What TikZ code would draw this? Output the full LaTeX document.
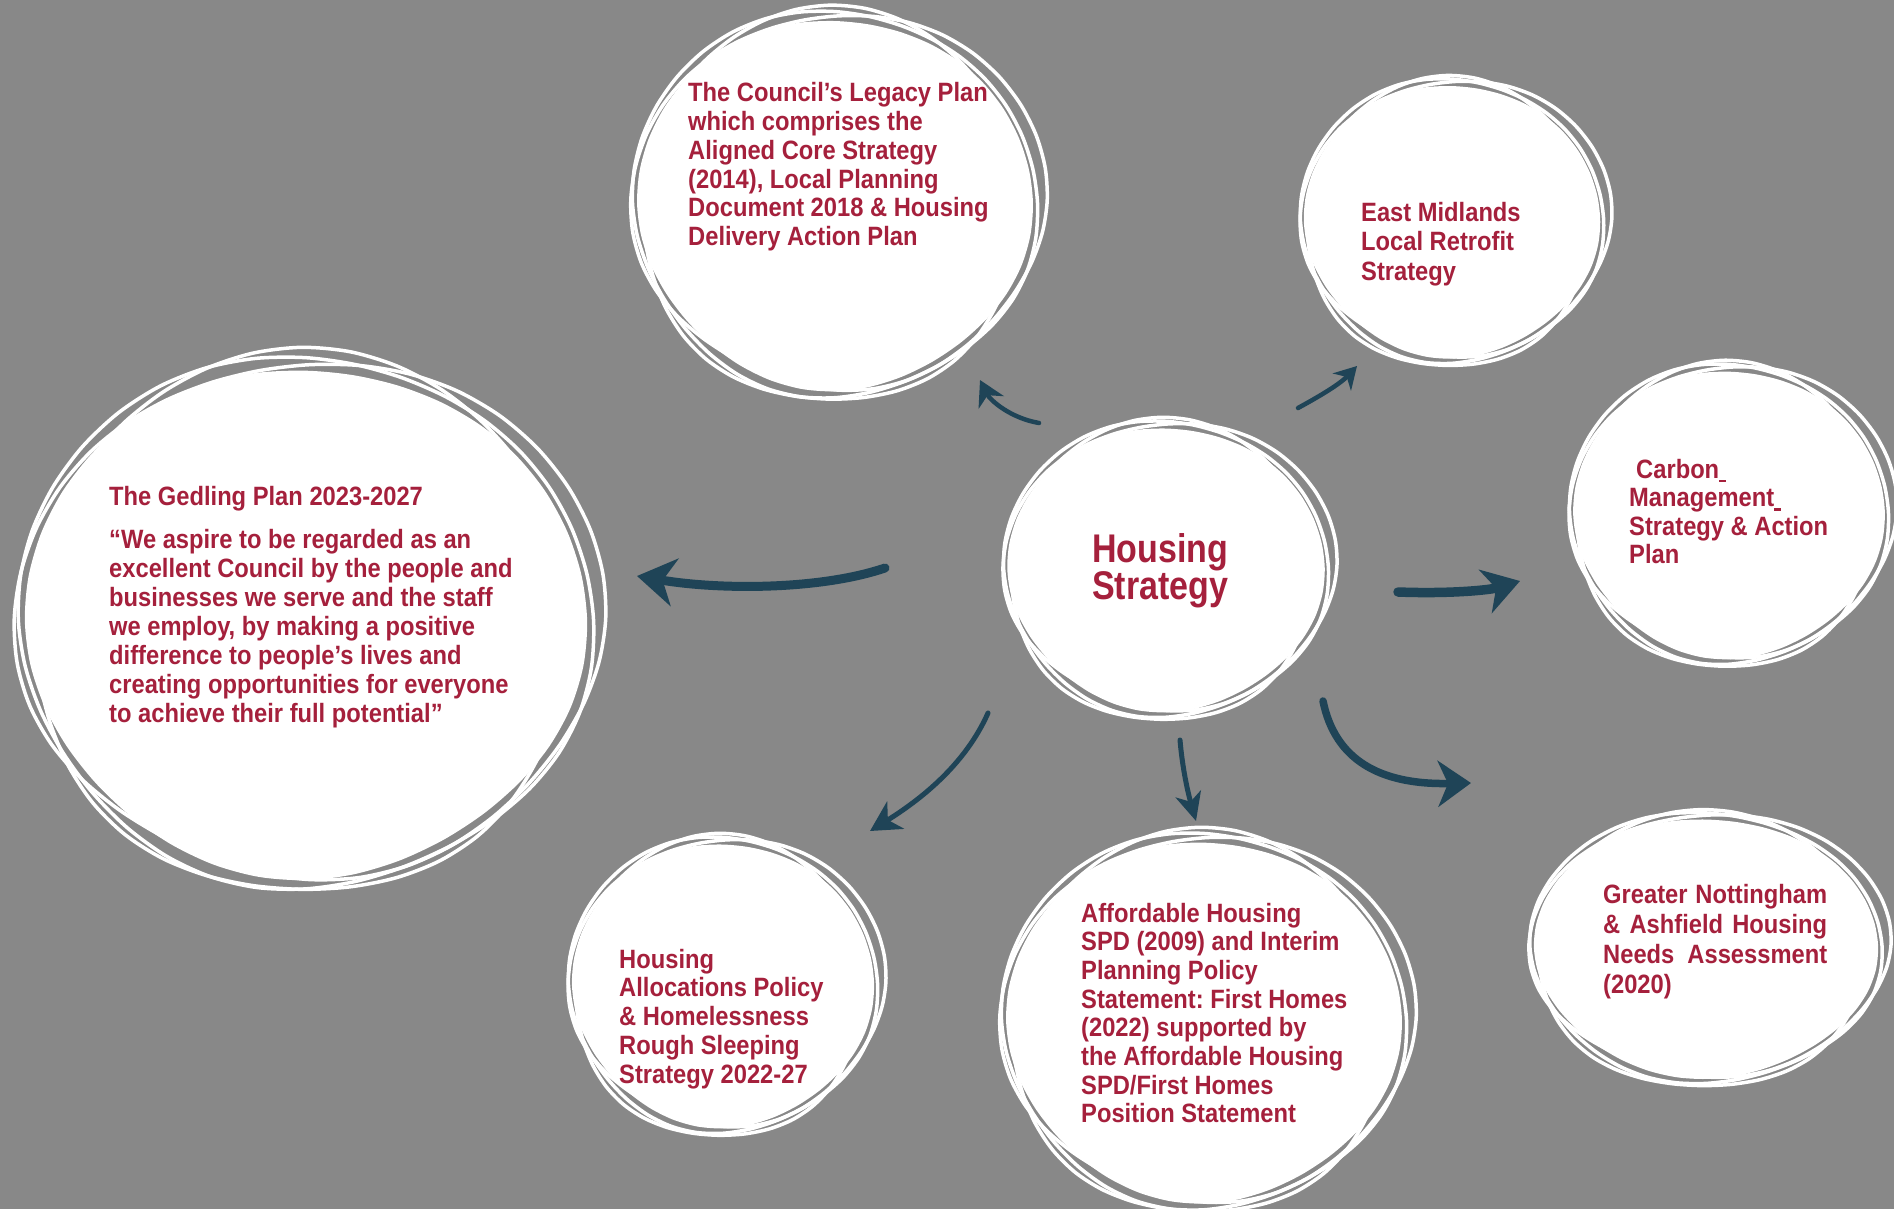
\documentclass[tikz,border=0pt]{standalone}
\usepackage{fontspec}
\setmainfont{Liberation Sans}
\newfontfamily\bodyfont{Liberation Sans}[FakeStretch=0.895]
\newfontfamily\titlefont{Liberation Sans}[FakeStretch=0.85]
\usetikzlibrary{arrows.meta}
\definecolor{bg}{RGB}{136,136,136}
\definecolor{crim}{RGB}{165,32,60}
\definecolor{arr}{RGB}{31,68,87}
\frenchspacing
\tikzset{
  loopline/.style={draw=white, line width=3.5pt},
  txt/.style={inner sep=0pt, anchor=base west, text=crim, font=\bodyfont\bfseries\fontsize{26.5}{28.7}\selectfont},
  conn/.style={draw=arr, line cap=round},
}
\newcommand\scrib[4]{%
  \fill[white] plot[smooth cycle,domain=0:350,samples=36,variable=\t]
    ({#1+#3*0.94*(1+0.02*sin(2*\t+60))*cos(\t)},{#2+#4*0.94*(1+0.02*cos(3*\t+60))*sin(\t)});
  \foreach \ddx/\ddy/\ssx/\ssy/\pph in {0/0/0.97/0.98/20, 4/-3/0.99/0.95/140, -4/4/0.93/1.0/260}{
    \draw[loopline] plot[smooth cycle,domain=0:350,samples=36,variable=\t]
      ({#1+\ddx+#3*\ssx*(1+0.025*sin(2*\t+\pph))*cos(\t)},{#2+\ddy+#4*\ssy*(1+0.025*cos(3*\t+\pph))*sin(\t)});
  }%
}
\begin{document}
\begin{tikzpicture}[x=1pt,y=-1pt]
\useasboundingbox (0,0) rectangle (1894,1209);
\fill[bg] (0,0) rectangle (1894,1209);
\clip (0,0) rectangle (1894,1209);

% scribbled circles
\scrib{835}{203}{207}{197}
\scrib{1452}{220}{155}{145}
\scrib{306}{621}{294}{271}
\scrib{1166}{568}{166}{151}
\scrib{1729}{513}{163}{153}
\scrib{1706}{947}{180}{138}
\scrib{1204}{1020}{207}{192}
\scrib{723}{984}{158}{151}

% texts
\node[txt] (legacy) at (688,102) {\parbox[t]{420pt}{\raggedright
  The Council’s Legacy Plan\\which comprises the\\Aligned Core Strategy\\(2014), Local Planning\\Document 2018 \& Housing\\Delivery Action Plan}};

\node[txt] (gedtitle) at (109,505) {The Gedling Plan 2023-2027};
\node[txt, font=\bodyfont\bfseries\fontsize{26.5}{29}\selectfont] (gedquote) at (109,548) {\parbox[t]{460pt}{\raggedright
  “We aspire to be regarded as an\\excellent Council by the people and\\businesses we serve and the staff\\we employ, by making a positive\\difference to people’s lives and\\creating opportunities for everyone\\to achieve their full potential”}};

\node[txt, font=\bodyfont\bfseries\fontsize{26.5}{29.5}\selectfont] (east) at (1361,221) {\parbox[t]{240pt}{\raggedright
  East Midlands\\Local Retrofit\\Strategy}};

\node[txt, font=\bodyfont\bfseries\fontsize{26.5}{28.5}\selectfont] (carbon) at (1629,478) {\parbox[t]{240pt}{\raggedright
  \hspace*{7pt}Carbon\rule[-4pt]{7pt}{2.5pt}\\Management\rule[-4pt]{7pt}{2.5pt}\\Strategy \& Action\\Plan}};

\node[txt, font=\bodyfont\bfseries\fontsize{26.5}{30}\selectfont] (gn) at (1603,903) {\parbox[t]{224pt}{
  \makebox[224pt][s]{Greater Nottingham}\\\makebox[224pt][s]{\& Ashfield Housing}\\\makebox[224pt][s]{Needs Assessment}\\(2020)\hfill}};

\node[txt] (afford) at (1081,922) {\parbox[t]{300pt}{\raggedright
  Affordable Housing\\SPD (2009) and Interim\\Planning Policy\\Statement: First Homes\\(2022) supported by\\the Affordable Housing\\SPD/First Homes\\Position Statement}};

\node[txt, font=\bodyfont\bfseries\fontsize{26.5}{28.8}\selectfont] (alloc) at (619,968) {\parbox[t]{260pt}{\raggedright
  Housing\\Allocations Policy\\\& Homelessness\\Rough Sleeping\\Strategy 2022-27}};

\node[txt, font=\titlefont\bfseries\fontsize{40}{33}\selectfont] (hs) at (1092,562) {\parbox[t]{200pt}{\raggedright Housing\\Strategy}};

% arrow end points
\coordinate (a1s) at (1039,423); \coordinate (a1e) at (980,380);
\coordinate (a2s) at (1298,408); \coordinate (a2e) at (1357,366);
\coordinate (a3s) at (885,568);  \coordinate (a3e) at (637,576);
\coordinate (a4s) at (1398,592); \coordinate (a4e) at (1520,581);
\coordinate (a5s) at (988,713);  \coordinate (a5e) at (870,831);
\coordinate (a6s) at (1180,740); \coordinate (a6e) at (1196,821);
\coordinate (a7s) at (1323,701); \coordinate (a7e) at (1471,783);

\draw[conn, line width=4.5pt, -{Stealth[length=25pt,width=28pt,inset=8pt]}]
  (a1s) .. controls (1010,418) and (990,400) .. (a1e);
\draw[conn, line width=4.5pt, -{Stealth[length=22pt,width=25pt,inset=7pt]}]
  (a2s) .. controls (1320,396) and (1340,384) .. (a2e);
\draw[conn, line width=9pt, -{Stealth[length=38pt,width=48pt,inset=12pt]}]
  (a3s) .. controls (820,590) and (720,590) .. (a3e);
\draw[conn, line width=9.5pt, -{Stealth[length=36pt,width=45pt,inset=11pt]}]
  (a4s) .. controls (1450,594) and (1490,590) .. (a4e);
\draw[conn, line width=5pt, -{Stealth[length=30pt,width=32pt,inset=9pt]}]
  (a5s) .. controls (965,765) and (920,800) .. (a5e);
\draw[conn, line width=5pt, -{Stealth[length=28pt,width=26pt,inset=8pt]}]
  (a6s) .. controls (1183,775) and (1190,800) .. (a6e);
\draw[conn, line width=7.5pt, -{Stealth[length=33pt,width=46pt,inset=10pt]}]
  (a7s) .. controls (1335,760) and (1380,785) .. (a7e);
\end{tikzpicture}
\end{document}
